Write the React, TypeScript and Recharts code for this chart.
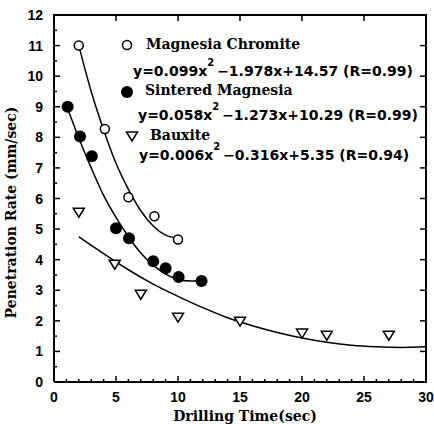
import { ComposedChart, Line, Scatter, XAxis, YAxis, Label } from 'recharts';

// Measured points
const chromiteX = [2, 4.1, 6, 8.1, 10];
const chromiteY = [11.0, 8.27, 6.04, 5.42, 4.66];
const sinteredX = [1.1, 2.1, 3.05, 5, 6.05, 8, 9, 10.05, 11.9];
const sinteredY = [9.0, 8.03, 7.38, 5.03, 4.7, 3.95, 3.72, 3.43, 3.3];
const bauxiteX = [2, 4.9, 7, 10, 15, 20, 22, 27];
const bauxiteY = [5.55, 3.85, 2.87, 2.12, 1.99, 1.6, 1.53, 1.53];

// Fitted curves
const chromiteFitX = [2, 3, 4, 5, 6, 7, 8, 9, 10];
const chromiteFitY = [11.0, 9.5, 8.25, 7.15, 6.3, 5.6, 5.1, 4.8, 4.7];
const sinteredFitX = [1, 2, 3, 4, 5, 6, 7, 8, 9, 10, 11, 12];
const sinteredFitY = [9.05, 7.98, 7.0, 6.1, 5.38, 4.75, 4.22, 3.82, 3.53, 3.36, 3.3, 3.33];
const bauxiteFitX = [2, 4, 6, 8, 10, 12, 14, 16, 18, 20, 22, 24, 26, 28, 30];
const bauxiteFitY = [4.75, 4.2, 3.67, 3.2, 2.8, 2.43, 2.1, 1.84, 1.62, 1.44, 1.3, 1.2, 1.15, 1.13, 1.15];

const xTicks = [0, 5, 10, 15, 20, 25, 30];
const yTicks = [0, 1, 2, 3, 4, 5, 6, 7, 8, 9, 10, 11, 12];
const X_MAX = 30;
const Y_MAX = 12;

const legendNames = ['Magnesia Chromite', 'Sintered Magnesia', 'Bauxite'];
const legendEqs = [
    ['y=0.099x', '2', '\u22121.978x+14.57 (R=0.99)'],
    ['y=0.058x', '2', '\u22121.273x+10.29 (R=0.99)'],
    ['y=0.006x', '2', '\u22120.316x+5.35 (R=0.94)'],
];

// legend layout (pixels)
const legendLayout = [
    { mx: 127, my: 45, nx: 146, ny: 49, ex: 133, ey: 76 },
    { mx: 127, my: 92, nx: 145, ny: 95, ex: 138, ey: 120 },
    { mx: 132, my: 136, nx: 150, ny: 140, ex: 139, ey: 160 },
];

const W = 434;
const H = 424;
const MARGIN = { top: 15, right: 8, bottom: 0, left: 0 };
const Y_AXIS_W = 54;
const X_AXIS_H = 42;
const PL = MARGIN.left + Y_AXIS_W;
const PR = W - MARGIN.right;
const PT = MARGIN.top;
const PB = H - MARGIN.bottom - X_AXIS_H;
const px = (v: number) => PL + (v / X_MAX) * (PR - PL);
const py = (v: number) => PB - (v / Y_MAX) * (PB - PT);

const zip = (xs: number[], ys: number[]) => xs.map((x, i) => ({ x, y: ys[i] }));

const SERIF = '"DejaVu Serif", serif';
const SANS = '"Liberation Sans", Arial, sans-serif';
const EQ = '"DejaVu Sans", sans-serif';

const OpenCircle = ({ cx, cy }: any) => <circle cx={cx} cy={cy} r={4.5} fill="#fff" stroke="#000" strokeWidth={1.5} />;
const FilledCircle = ({ cx, cy }: any) => <circle cx={cx} cy={cy} r={6} fill="#000" />;
const Triangle = ({ cx, cy }: any) => (
    <polygon points={`${cx - 5.5},${cy - 4} ${cx + 5.5},${cy - 4} ${cx},${cy + 5}`} fill="#fff" stroke="#000" strokeWidth={1.5} />
);
const markers = [OpenCircle, FilledCircle, Triangle];

const BottomTick = ({ x, y, payload }: any) => (
    <text x={x} y={y + 20} textAnchor="middle" fontFamily={SANS} fontWeight="bold" fontSize={14} fill="#000">
        {payload.value}
    </text>
);

const LeftTick = ({ x, y, payload }: any) => (
    <text x={x - 11} y={y + 5} textAnchor="end" fontFamily={SANS} fontWeight="bold" fontSize={14} fill="#000">
        {payload.value}
    </text>
);

// inward ticks on all four sides, as small filled rects
const TickMarks = () => {
    const minorX = Array.from({ length: X_MAX + 1 }, (_, i) => i);
    const minorY = Array.from({ length: Y_MAX * 2 + 1 }, (_, i) => i / 2);
    return (
        <g fill="#000">
            {minorX.map((v) => {
                const len = v % 5 === 0 ? 6 : 3;
                return <rect key={`b${v}`} x={px(v) - 0.75} y={PB - len} width={1.5} height={len} />;
            })}
            {xTicks.slice(1, -1).map((v) => (
                <rect key={`t${v}`} x={px(v) - 0.75} y={PT} width={1.5} height={6} />
            ))}
            {minorY.map((v) => {
                const len = Number.isInteger(v) ? 6 : 3;
                return <rect key={`l${v}`} x={PL} y={py(v) - 0.75} width={len} height={1.5} />;
            })}
            {yTicks.slice(1, -1).map((v) => (
                <rect key={`r${v}`} x={PR - 6} y={py(v) - 0.75} width={6} height={1.5} />
            ))}
            <rect x={PL - 1} y={PT - 1} width={PR - PL + 2} height={2} />
            <rect x={PR - 1} y={PT - 1} width={2} height={PB - PT + 2} />
        </g>
    );
};

const Overlay = () => (
    <svg width={W} height={H} style={{ position: 'absolute', left: 0, top: 0, pointerEvents: 'none' }}>
        <TickMarks />
        {legendNames.map((name, i) => {
            const p = legendLayout[i];
            const Marker = markers[i];
            return (
                <g key={name}>
                    <Marker cx={p.mx} cy={p.my} />
                    <text x={p.nx} y={p.ny} fontFamily={SERIF} fontWeight="bold" fontSize={14} fill="#000">
                        {name}
                    </text>
                    <text x={p.ex} y={p.ey} fontFamily={EQ} fontWeight="bold" fontSize={14} fill="#000">
                        {legendEqs[i][0]}
                        <tspan dy={-10} fontSize={10}>{legendEqs[i][1]}</tspan>
                        <tspan dy={10} dx={3}>{legendEqs[i][2]}</tspan>
                    </text>
                </g>
            );
        })}
    </svg>
);

export default function App() {
    return (
        <div style={{ position: 'relative', width: W, height: H }}>
            <style>{`body{margin:0;background:#fff}`}</style>
            <ComposedChart width={W} height={H} margin={MARGIN}>
                <XAxis
                    dataKey="x"
                    type="number"
                    domain={[0, X_MAX]}
                    ticks={xTicks}
                    interval={0}
                    tick={<BottomTick />}
                    tickLine={false}
                    tickSize={0}
                    tickMargin={0}
                    height={X_AXIS_H}
                    axisLine={{ stroke: '#000', strokeWidth: 2 }}
                >
                    <Label
                        content={({ viewBox }: any) => (
                            <text x={viewBox.x + viewBox.width / 2 + 5} y={421} textAnchor="middle" fontFamily={SERIF} fontWeight="bold" fontSize={14} fill="#000">
                                Drilling Time(sec)
                            </text>
                        )}
                    />
                </XAxis>
                <YAxis
                    dataKey="y"
                    type="number"
                    domain={[0, Y_MAX]}
                    ticks={yTicks}
                    interval={0}
                    tick={<LeftTick />}
                    tickLine={false}
                    tickSize={0}
                    tickMargin={0}
                    width={Y_AXIS_W}
                    axisLine={{ stroke: '#000', strokeWidth: 2 }}
                >
                    <Label
                        content={({ viewBox }: any) => {
                            const cy = viewBox.y + viewBox.height / 2 + 14;
                            return (
                                <text x={16} y={cy} transform={`rotate(-90 16 ${cy})`} textAnchor="middle" fontFamily={SERIF} fontWeight="bold" fontSize={14} fill="#000">
                                    Penetration Rate (mm/sec)
                                </text>
                            );
                        }}
                    />
                </YAxis>
                <Line data={zip(chromiteFitX, chromiteFitY)} dataKey="y" type="monotone" stroke="#000" strokeWidth={1.5} dot={false} isAnimationActive={false} />
                <Line data={zip(sinteredFitX, sinteredFitY)} dataKey="y" type="monotone" stroke="#000" strokeWidth={1.5} dot={false} isAnimationActive={false} />
                <Line data={zip(bauxiteFitX, bauxiteFitY)} dataKey="y" type="monotone" stroke="#000" strokeWidth={1.5} dot={false} isAnimationActive={false} />
                <Scatter data={zip(chromiteX, chromiteY)} dataKey="y" shape={<OpenCircle />} isAnimationActive={false} />
                <Scatter data={zip(sinteredX, sinteredY)} dataKey="y" shape={<FilledCircle />} isAnimationActive={false} />
                <Scatter data={zip(bauxiteX, bauxiteY)} dataKey="y" shape={<Triangle />} isAnimationActive={false} />
            </ComposedChart>
            <Overlay />
            <div
                style={{
                    position: 'absolute',
                    left: PL - 1,
                    top: PT - 1,
                    width: PR - PL,
                    height: PB - PT,
                    border: '2px solid #000',
                    borderLeft: 'none',
                    borderBottom: 'none',
                    pointerEvents: 'none',
                }}
            />
        </div>
    );
}
